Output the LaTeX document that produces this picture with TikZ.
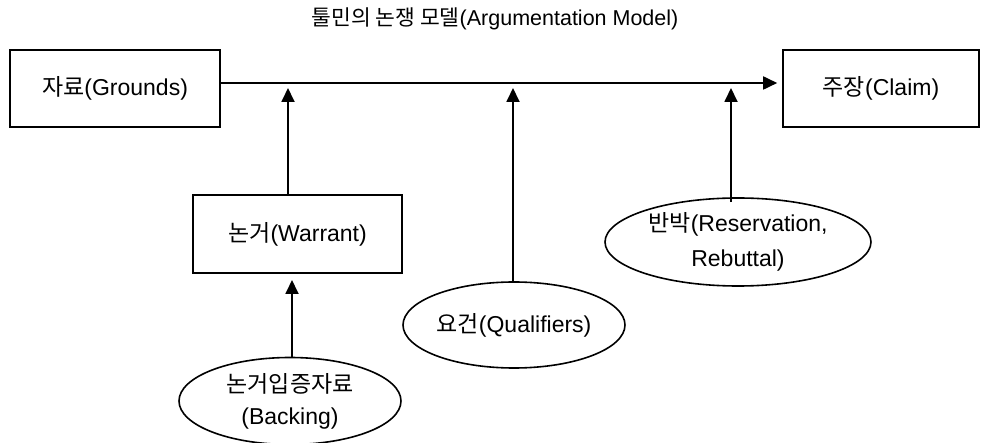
\documentclass[tikz,border=0pt]{standalone}
\usepackage{fontspec}
\setmainfont{Liberation Sans}
\newfontfamily\kr{Noto Sans CJK KR}
\usetikzlibrary{shapes.geometric,arrows.meta,calc}
\begin{document}
\begin{tikzpicture}[x=1pt,y=-1pt,
  box/.style={draw,line width=1.6pt,rectangle,inner sep=0pt},
  oval/.style={draw,line width=1.6pt,ellipse,inner sep=0pt,align=center},
  lbl/.style={font=\fontsize{23}{32}\selectfont},
  arr/.style={line width=1.8pt,-{Triangle[width=13pt,length=14pt]}}]
\useasboundingbox (0,0) rectangle (988,443);
\node[font=\fontsize{21.5}{24}\selectfont] (title) at (495,19) {{\kr 툴민의 논쟁 모델}(Argumentation Model)};
\node[box,lbl,minimum width=210pt,minimum height=77pt] (grounds) at (115,88.5) {{\kr 자료}(Grounds)};
\node[box,lbl,minimum width=196pt,minimum height=77pt] (claim) at (881,88.5) {{\kr 주장}(Claim)};
\node[box,lbl,minimum width=209pt,minimum height=78pt] (warrant) at (297.5,234) {{\kr 논거}(Warrant)};
\node[oval,lbl,minimum width=222pt,minimum height=87pt] (backing) at (290,401) {{\kr 논거입증자료}\\(Backing)};
\node[oval,lbl,minimum width=222pt,minimum height=86pt] (qual) at (514,325) {{\kr 요건}(Qualifiers)};
\node[oval,font=\fontsize{23}{35}\selectfont,minimum width=266pt,minimum height=88pt] (reserv) at (738,242) {{\kr 반박}(Reservation,\\Rebuttal)};
\coordinate (mainy) at (0,83);
\draw[arr] (grounds.east |- mainy) -- ($(claim.west |- mainy)+(-5,0)$);
\coordinate (w1) at (288,88);
\coordinate (q1) at (513,88);
\coordinate (r1) at (731,88);
\draw[arr] (warrant.north -| w1) -- (w1);
\draw[arr] (qual.north -| q1) -- (q1);
\draw[arr] ([yshift=-5pt]reserv.north -| r1) -- (r1);
\coordinate (b1) at (292,280);
\draw[arr] (backing.north -| b1) -- (b1);
\end{tikzpicture}
\end{document}
